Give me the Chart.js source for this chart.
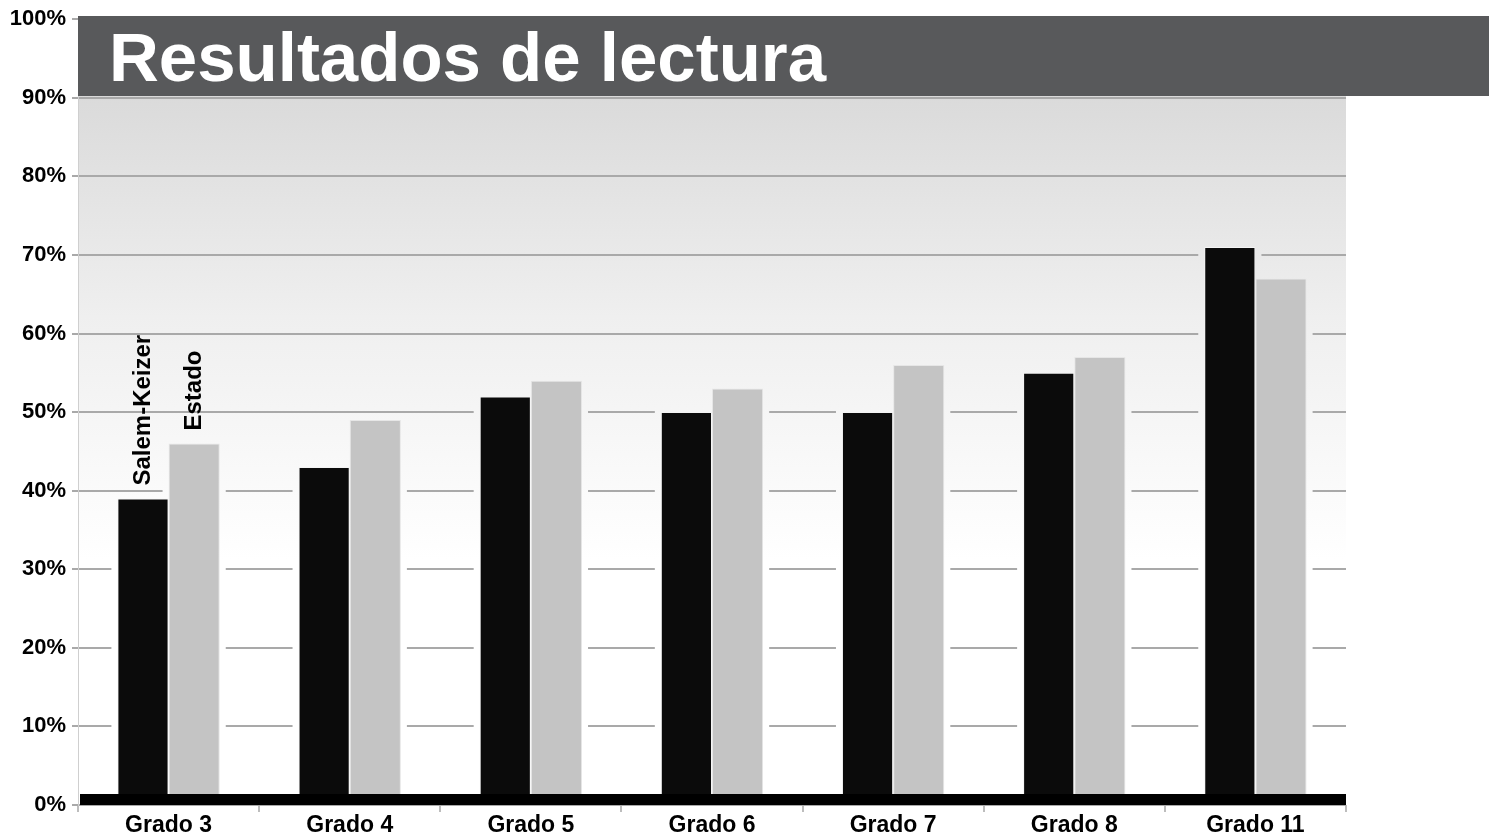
<!DOCTYPE html>
<html lang="es">
<head>
    <meta charset="UTF-8">
    <title>Resultados de lectura</title>
    <script src="https://cdn.jsdelivr.net/npm/chart.js"></script>
    <style>
        body {
            margin: 0;
            background-color: #fff;
        }
        #chart {
            display: block;
        }
    </style>
</head>
<body>
    <canvas id="chart" width="1496" height="840"></canvas>

    <script>
        const titleText = 'Resultados de lectura';
        const grades = ['Grado 3', 'Grado 4', 'Grado 5', 'Grado 6', 'Grado 7', 'Grado 8', 'Grado 11'];
        const seriesNames = ['Salem-Keizer', 'Estado'];
        const salemKeizer = [39, 43, 52, 50, 50, 55, 71];
        const estado = [46, 49, 54, 53, 56, 57, 67];
        const yTicks = [0, 10, 20, 30, 40, 50, 60, 70, 80, 90, 100];

        const FONT = '"Liberation Sans", Arial, sans-serif';

        function plotGradient(ctx, a) {
            const g = ctx.createLinearGradient(0, a.top, 0, 560);
            g.addColorStop(0, '#d3d3d3');
            g.addColorStop(0.55, '#efefef');
            g.addColorStop(1, '#ffffff');
            return g;
        }

        // gradient behind plot, gaps in grid round bars, black base band, banner, rotated labels
        const decorPlugin = {
            id: 'decor',
            beforeDraw(chart) {
                const { ctx, chartArea: a } = chart;
                ctx.save();
                ctx.fillStyle = plotGradient(ctx, a);
                ctx.fillRect(a.left, a.top, a.right - a.left, a.bottom - a.top);
                ctx.restore();
            },
            beforeDatasetsDraw(chart) {
                const { ctx, chartArea: a } = chart;
                ctx.save();
                ctx.fillStyle = plotGradient(ctx, a);
                chart.data.datasets.forEach((ds, i) => {
                    chart.getDatasetMeta(i).data.forEach(bar => {
                        const p = bar.getProps(['x', 'y', 'base', 'width'], true);
                        ctx.fillRect(p.x - p.width / 2 - 6, p.y - 2, p.width + 12, p.base - p.y + 2);
                    });
                });
                ctx.restore();
            },
            afterDatasetsDraw(chart) {
                const { ctx, chartArea: a } = chart;
                ctx.save();
                ctx.fillStyle = '#000';
                ctx.fillRect(a.left + 2, a.bottom - 11, a.right - a.left - 2, 11);

                ctx.font = 'bold 24px ' + FONT;
                ctx.fillStyle = '#000';
                ctx.textAlign = 'left';
                ctx.textBaseline = 'middle';
                seriesNames.forEach((name, i) => {
                    const bar = chart.getDatasetMeta(i).data[0];
                    ctx.save();
                    ctx.translate(bar.x, bar.y - 13);
                    ctx.rotate(-Math.PI / 2);
                    ctx.fillText(name, 0, 0);
                    ctx.restore();
                });
                ctx.restore();
            },
            afterDraw(chart) {
                const { ctx, chartArea: a } = chart;
                ctx.save();
                ctx.fillStyle = '#58595b';
                ctx.fillRect(a.left, 16, 1489 - a.left, 80);
                ctx.fillStyle = '#fff';
                ctx.font = 'bold 69px ' + FONT;
                ctx.textAlign = 'left';
                ctx.textBaseline = 'alphabetic';
                ctx.fillText(titleText, 109, 81);
                ctx.restore();
            }
        };

        const ctx = document.getElementById('chart').getContext('2d');
        const chart = new Chart(ctx, {
            type: 'bar',
            data: {
                labels: grades,
                datasets: [
                    {
                        label: seriesNames[0],
                        data: salemKeizer,
                        backgroundColor: '#0b0b0b',
                        borderColor: '#f4f4f4',
                        borderWidth: 1,
                        barPercentage: 1.0,
                        categoryPercentage: 0.565
                    },
                    {
                        label: seriesNames[1],
                        data: estado,
                        backgroundColor: '#c4c4c4',
                        borderColor: '#e6e6e6',
                        borderWidth: 1,
                        barPercentage: 1.0,
                        categoryPercentage: 0.565
                    }
                ]
            },
            options: {
                responsive: false,
                animation: false,
                layout: {
                    padding: { left: 0, top: 18, right: 150, bottom: 0 }
                },
                plugins: {
                    legend: { display: false },
                    tooltip: { enabled: false }
                },
                scales: {
                    x: {
                        afterFit(scale) { scale.height = 35; },
                        grid: {
                            display: true,
                            drawOnChartArea: false,
                            offset: true,
                            tickLength: 7,
                            color: '#bdbdbd',
                            lineWidth: 2
                        },
                        border: { display: false },
                        ticks: {
                            color: '#000',
                            padding: 0,
                            maxRotation: 0,
                            font: { family: FONT, size: 23, weight: 'bold' }
                        }
                    },
                    y: {
                        min: 0,
                        max: 100,
                        afterFit(scale) { scale.width = 78; },
                        afterBuildTicks(scale) {
                            scale.ticks = yTicks.map(v => ({ value: v }));
                        },
                        grid: {
                            color: '#a9a9a9',
                            lineWidth: 2,
                            tickLength: 6
                        },
                        border: { display: true, color: '#cfcfcf', width: 1 },
                        ticks: {
                            color: '#000',
                            padding: 6,
                            font: { family: FONT, size: 22, weight: 'bold' },
                            callback: v => v + '%'
                        }
                    }
                }
            },
            plugins: [decorPlugin]
        });
    </script>
</body>
</html>
